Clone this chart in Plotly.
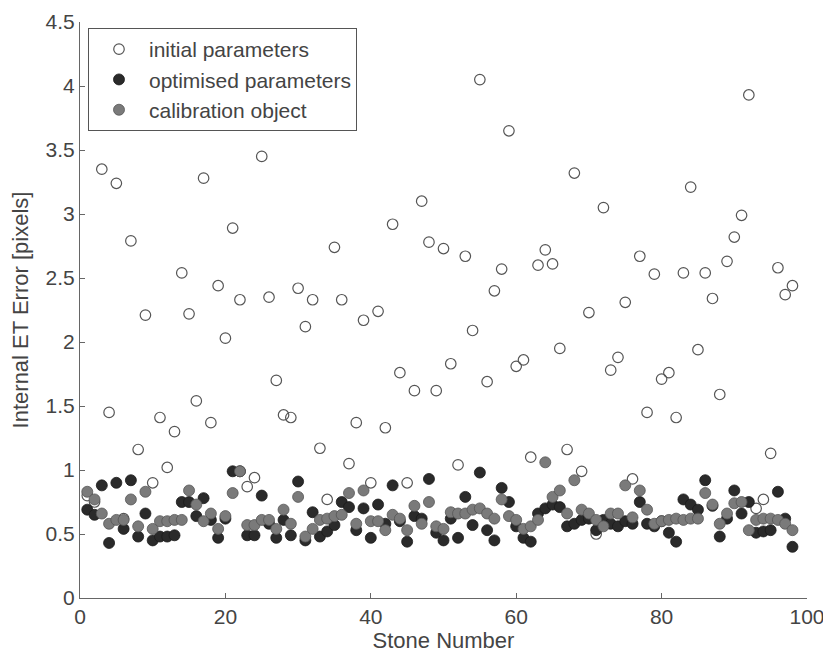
import plotly.graph_objects as go

stone = list(range(1, 99))

initial = [0.80, 0.75, 3.35, 1.45, 3.24, 0.62, 2.79, 1.16, 2.21, 0.90,
           1.41, 1.02, 1.30, 2.54, 2.22, 1.54, 3.28, 1.37, 2.44, 2.03,
           2.89, 2.33, 0.87, 0.94, 3.45, 2.35, 1.70, 1.43, 1.41, 2.42,
           2.12, 2.33, 1.17, 0.77, 2.74, 2.33, 1.05, 1.37, 2.17, 0.90,
           2.24, 1.33, 2.92, 1.76, 0.90, 1.62, 3.10, 2.78, 1.62, 2.73,
           1.83, 1.04, 2.67, 2.09, 4.05, 1.69, 2.40, 2.57, 3.65, 1.81,
           1.86, 1.10, 2.60, 2.72, 2.61, 1.95, 1.16, 3.32, 0.99, 2.23,
           0.50, 3.05, 1.78, 1.88, 2.31, 0.93, 2.67, 1.45, 2.53, 1.71,
           1.76, 1.41, 2.54, 3.21, 1.94, 2.54, 2.34, 1.59, 2.63, 2.82,
           2.99, 3.93, 0.70, 0.77, 1.13, 2.58, 2.37, 2.44]

optimised = [0.69, 0.65, 0.88, 0.43, 0.90, 0.54, 0.92, 0.48, 0.66, 0.45,
             0.48, 0.48, 0.49, 0.75, 0.75, 0.64, 0.78, 0.61, 0.47, 0.62,
             0.99, 0.99, 0.49, 0.49, 0.80, 0.58, 0.47, 0.61, 0.49, 0.91,
             0.45, 0.67, 0.48, 0.52, 0.57, 0.75, 0.71, 0.53, 0.70, 0.47,
             0.73, 0.58, 0.88, 0.60, 0.44, 0.64, 0.62, 0.93, 0.51, 0.45,
             0.62, 0.47, 0.79, 0.57, 0.98, 0.53, 0.45, 0.86, 0.75, 0.56,
             0.47, 0.44, 0.66, 0.70, 0.73, 0.71, 0.56, 0.58, 0.61, 0.62,
             0.53, 0.61, 0.58, 0.56, 0.60, 0.58, 0.75, 0.58, 0.56, 0.60,
             0.51, 0.44, 0.77, 0.73, 0.69, 0.92, 0.72, 0.48, 0.62, 0.84,
             0.66, 0.75, 0.51, 0.52, 0.53, 0.83, 0.62, 0.40]

calibration = [0.83, 0.77, 0.66, 0.58, 0.61, 0.61, 0.77, 0.56, 0.83, 0.54,
               0.60, 0.60, 0.61, 0.61, 0.84, 0.73, 0.60, 0.66, 0.54, 0.64,
               0.82, 0.99, 0.57, 0.57, 0.61, 0.61, 0.54, 0.69, 0.58, 0.79,
               0.48, 0.54, 0.61, 0.62, 0.64, 0.65, 0.82, 0.58, 0.84, 0.60,
               0.60, 0.53, 0.65, 0.62, 0.53, 0.72, 0.58, 0.75, 0.56, 0.54,
               0.67, 0.66, 0.66, 0.69, 0.70, 0.66, 0.62, 0.77, 0.64, 0.61,
               0.54, 0.56, 0.61, 1.06, 0.79, 0.84, 0.66, 0.92, 0.69, 0.66,
               0.61, 0.56, 0.66, 0.66, 0.88, 0.63, 0.84, 0.69, 0.58, 0.60,
               0.61, 0.62, 0.61, 0.62, 0.62, 0.82, 0.73, 0.58, 0.66, 0.74,
               0.75, 0.53, 0.61, 0.62, 0.62, 0.61, 0.58, 0.53]

x_ticks = [0, 20, 40, 60, 80, 100]
y_ticks = [0, 0.5, 1, 1.5, 2, 2.5, 3, 3.5, 4, 4.5]
y_tick_text = ["0", "0.5", "1", "1.5", "2", "2.5", "3", "3.5", "4", "4.5"]

FONT = "Liberation Sans, Arial, sans-serif"
TXT = "#444444"

fig = go.Figure()
fig.add_trace(go.Scatter(
    x=stone, y=initial, mode="markers", name="initial parameters",
    marker=dict(symbol="circle-open", size=10.5, color="#555555",
                line=dict(width=1.2, color="#555555"))))
fig.add_trace(go.Scatter(
    x=stone, y=optimised, mode="markers", name="optimised parameters",
    marker=dict(symbol="circle", size=11, color="#2a2a2a",
                line=dict(width=0.8, color="#1a1a1a"))))
fig.add_trace(go.Scatter(
    x=stone, y=calibration, mode="markers", name="calibration object",
    marker=dict(symbol="circle", size=11, color="#7a7a7a",
                line=dict(width=0.8, color="#555555"))))

axis_common = dict(
    showgrid=False, zeroline=False, showline=True, linecolor="#666666",
    linewidth=1.2, ticks="inside", ticklen=5, tickcolor="#666666",
    tickfont=dict(family=FONT, size=21, color=TXT),
    mirror=False, automargin=False,
)

fig.update_layout(
    width=823, height=646,
    margin=dict(l=72, r=24, t=14, b=56),
    paper_bgcolor="white", plot_bgcolor="white",
    font=dict(family=FONT, color=TXT),
    showlegend=True,
    legend=dict(x=0.011, y=0.9896, xanchor="left", yanchor="top",
                bordercolor="#555555", borderwidth=1, bgcolor="white",
                font=dict(family=FONT, size=21, color=TXT),
                itemwidth=50, tracegroupgap=0),
    xaxis=dict(range=[0, 100], tickvals=x_ticks,
               title=dict(text="Stone Number", standoff=0,
                          font=dict(family=FONT, size=22, color=TXT)),
               **axis_common),
    yaxis=dict(range=[0, 4.5], tickvals=y_ticks, ticktext=y_tick_text,
               title=dict(text="Internal ET Error [pixels]", standoff=12,
                          font=dict(family=FONT, size=22, color=TXT)),
               **axis_common),
)

fig.write_html("out.html")
